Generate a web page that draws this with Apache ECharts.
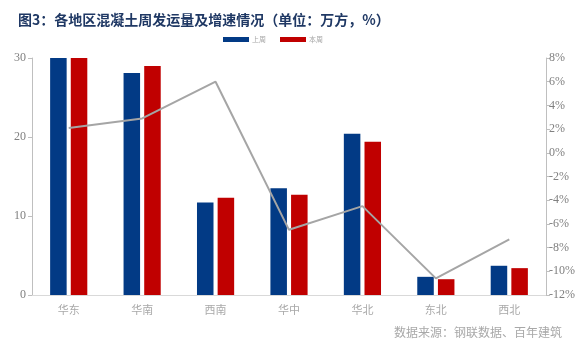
<!DOCTYPE html>
<html>
<head>
<meta charset="utf-8">
<script src="https://cdn.jsdelivr.net/npm/echarts@6/dist/echarts.min.js"></script>
<style>
  html, body { margin: 0; padding: 0; background: #fff; }
  #chart { width: 585px; height: 350px; }
</style>
</head>
<body>
<div id="chart"></div>
<script>
// Regions
const regions = ['华东', '华南', '西南', '华中', '华北', '东北', '西北'];
// Weekly shipments, 10k m³
const lastWeek = [30.0, 28.1, 11.7, 13.5, 20.4, 2.3, 3.7];
const thisWeek = [30.0, 29.0, 12.3, 12.7, 19.4, 2.0, 3.4];
// Week-on-week change, %
const growth = [2.1, 2.9, 6.0, -6.5, -4.5, -10.6, -7.3];

const grey = '#808080';
const chart = echarts.init(document.getElementById('chart'), null, { renderer: 'canvas' });

chart.setOption({
  animation: false,
  backgroundColor: '#ffffff',
  title: {
    text: '图3：各地区混凝土周发运量及增速情况（单位：万方，%）',
    left: 13,
    top: 8,
    textStyle: {
      fontFamily: 'Noto Sans CJK SC',
      fontWeight: 'bold',
      fontSize: 14,
      color: '#1f3864'
    }
  },
  legend: {
    data: ['上周', '本周'],
    left: 218,
    top: 31,
    itemWidth: 26,
    itemHeight: 5,
    itemGap: 14,
    icon: 'rect',
    textStyle: { fontSize: 7, color: '#a8a8a8', fontFamily: 'Noto Sans CJK SC', padding: [0, 0, 0, -2] }
  },
  grid: { left: 32, right: 39, top: 58, bottom: 55, containLabel: false },
  xAxis: {
    type: 'category',
    data: regions,
    axisLine: { lineStyle: { color: '#d9d9d9', width: 1 } },
    axisTick: { show: false },
    axisLabel: {
      color: '#a8a8a8',
      fontSize: 11,
      margin: 9,
      fontFamily: 'Noto Sans CJK SC'
    }
  },
  yAxis: [
    {
      type: 'value',
      min: 0,
      max: 30,
      interval: 10,
      position: 'left',
      axisLine: { show: true, lineStyle: { color: '#bfbfbf' } },
      axisTick: { show: true, length: 4, lineStyle: { color: '#bfbfbf' } },
      splitLine: { show: false },
      axisLabel: {
        color: grey,
        fontSize: 12,
        margin: 6,
        fontFamily: 'Liberation Serif'
      }
    },
    {
      type: 'value',
      min: -12,
      max: 8,
      interval: 2,
      position: 'right',
      axisLine: { show: true, lineStyle: { color: '#bfbfbf' } },
      axisTick: { show: true, length: 4, lineStyle: { color: '#bfbfbf' } },
      splitLine: { show: false },
      axisLabel: {
        color: grey,
        fontSize: 12,
        margin: 3,
        fontFamily: 'Liberation Serif',
        formatter: '{value}%'
      }
    }
  ],
  series: [
    {
      name: '上周',
      type: 'bar',
      data: lastWeek,
      barWidth: '22.5%',
      barGap: '25%',
      itemStyle: { color: '#023a85' }
    },
    {
      name: '本周',
      type: 'bar',
      data: thisWeek,
      barWidth: '22.5%',
      itemStyle: { color: '#c00000' }
    },
    {
      name: '增速',
      type: 'line',
      yAxisIndex: 1,
      data: growth,
      symbol: 'none',
      lineStyle: { color: '#a5a5a5', width: 2 },
      z: 5
    }
  ],
  graphic: [
    {
      type: 'text',
      right: 23,
      top: 326,
      style: {
        text: '数据来源：钢联数据、百年建筑',
        fill: '#a8a8a8',
        fontSize: 12,
        fontFamily: 'Noto Sans CJK SC'
      }
    }
  ]
});
</script>
</body>
</html>
